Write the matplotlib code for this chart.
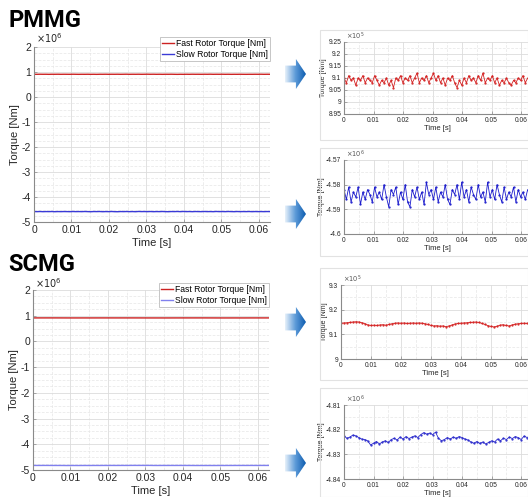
import numpy as np
import matplotlib
matplotlib.use('Agg')
import matplotlib.pyplot as plt
from matplotlib.patches import Polygon, Rectangle
from matplotlib.ticker import AutoMinorLocator

plt.rcParams['font.family'] = ['Liberation Sans', 'DejaVu Sans']

# ---- data ----
t_end = 0.063

# PMMG fast rotor torque [x1e5 Nm]
pmmg_fast = [9.10, 9.08, 9.11, 9.09, 9.10, 9.07, 9.10, 9.09, 9.11, 9.08,
             9.10, 9.09, 9.08, 9.11, 9.09, 9.07, 9.09, 9.08, 9.10, 9.07,
             9.09, 9.06, 9.10, 9.09, 9.11, 9.08, 9.10, 9.09, 9.11, 9.08,
             9.10, 9.12, 9.08, 9.10, 9.09, 9.11, 9.08, 9.10, 9.12, 9.09,
             9.11, 9.08, 9.10, 9.07, 9.10, 9.09, 9.11, 9.08, 9.06, 9.09,
             9.07, 9.10, 9.08, 9.11, 9.09, 9.10, 9.08, 9.11, 9.09, 9.12,
             9.08, 9.10, 9.09, 9.11, 9.08, 9.10, 9.07, 9.09, 9.08, 9.10,
             9.08, 9.07, 9.09, 9.08, 9.10, 9.09, 9.11, 9.08, 9.10, 9.09]

# PMMG slow rotor torque [x1e6 Nm]
pmmg_slow = [-4.582, -4.586, -4.581, -4.587, -4.583, -4.585, -4.581, -4.588, -4.583, -4.586,
             -4.582, -4.584, -4.587, -4.581, -4.585, -4.583, -4.586, -4.580, -4.585, -4.589,
             -4.582, -4.584, -4.581, -4.588, -4.583, -4.586, -4.580, -4.587, -4.589, -4.582,
             -4.585, -4.581, -4.586, -4.583, -4.588, -4.579, -4.584, -4.582, -4.586, -4.581,
             -4.587, -4.583, -4.585, -4.580, -4.586, -4.588, -4.582, -4.584, -4.580, -4.586,
             -4.579, -4.585, -4.582, -4.587, -4.581, -4.584, -4.586, -4.580, -4.585, -4.583,
             -4.587, -4.579, -4.585, -4.582, -4.586, -4.580, -4.584, -4.587, -4.581, -4.586,
             -4.583, -4.585, -4.581, -4.587, -4.582, -4.585, -4.583, -4.586, -4.582, -4.584]

# SCMG fast rotor torque [x1e5 Nm]
scmg_fast = [9.145, 9.146, 9.147, 9.148, 9.150, 9.151, 9.150, 9.147, 9.143, 9.138,
             9.136, 9.137, 9.136, 9.138, 9.139, 9.137, 9.140, 9.143, 9.145, 9.146,
             9.145, 9.146, 9.144, 9.145, 9.146, 9.145, 9.146, 9.145, 9.143, 9.140,
             9.136, 9.134, 9.135, 9.133, 9.134, 9.131, 9.134, 9.138, 9.142, 9.144,
             9.145, 9.146, 9.147, 9.148, 9.149, 9.150, 9.148, 9.144, 9.140, 9.135,
             9.132, 9.130, 9.133, 9.137, 9.139, 9.136, 9.134, 9.138, 9.141, 9.143,
             9.144, 9.145, 9.144, 9.145]

# SCMG slow rotor torque [x1e6 Nm]
scmg_slow = [-4.8225, -4.8235, -4.8230, -4.8222, -4.8225, -4.8232, -4.8238, -4.8240, -4.8245, -4.8262,
             -4.8255, -4.8248, -4.8258, -4.8250, -4.8245, -4.8252, -4.8240, -4.8235, -4.8242, -4.8230,
             -4.8238, -4.8228, -4.8236, -4.8230, -4.8225, -4.8232, -4.8220, -4.8212, -4.8218, -4.8214,
             -4.8220, -4.8210, -4.8235, -4.8245, -4.8240, -4.8232, -4.8238, -4.8230, -4.8235, -4.8228,
             -4.8232, -4.8238, -4.8242, -4.8250, -4.8255, -4.8248, -4.8256, -4.8250, -4.8258, -4.8252,
             -4.8245, -4.8250, -4.8238, -4.8245, -4.8235, -4.8240, -4.8230, -4.8236, -4.8228, -4.8232,
             -4.8240, -4.8226, -4.8232, -4.8225]

time_ticks = [0, 0.01, 0.02, 0.03, 0.04, 0.05, 0.06]
time_labels = ['0', '0.01', '0.02', '0.03', '0.04', '0.05', '0.06']
main_yticks = [-5, -4, -3, -2, -1, 0, 1, 2]
main_ylabels = ['-5', '-4', '-3', '-2', '-1', '0', '1', '2']

inset_specs = [
    # (series, scale exponent, ylim, yticks, yticklabels, colour)
    (pmmg_fast, 5, (8.95, 9.25), [8.95, 9.0, 9.05, 9.1, 9.15, 9.2, 9.25],
     ['8.95', '9', '9.05', '9.1', '9.15', '9.2', '9.25'], '#d42020'),
    (pmmg_slow, 6, (-4.60, -4.57), [-4.60, -4.59, -4.58, -4.57],
     ['-4.6', '-4.59', '-4.58', '-4.57'], '#1a1acc'),
    (scmg_fast, 5, (9.0, 9.3), [9.0, 9.1, 9.2, 9.3],
     ['9', '9.1', '9.2', '9.3'], '#d42020'),
    (scmg_slow, 6, (-4.84, -4.81), [-4.84, -4.83, -4.82, -4.81],
     ['-4.84', '-4.83', '-4.82', '-4.81'], '#2a2acc'),
]

W, H = 528, 497
fig = plt.figure(figsize=(W / 100, H / 100), dpi=100)


def px_axes(left, top, right, bottom):
    return fig.add_axes([left / W, 1 - bottom / H, (right - left) / W, (bottom - top) / H])


def matlab_style(ax, fs):
    for s in ['top', 'right']:
        ax.spines[s].set_visible(False)
    for s in ['left', 'bottom']:
        ax.spines[s].set_color('#8a8a8a')
        ax.spines[s].set_linewidth(0.8)
    ax.tick_params(direction='in', length=2, width=0.5, colors='#8a8a8a',
                   labelcolor='#262626', labelsize=fs, pad=2)
    ax.tick_params(which='minor', length=0)
    ax.grid(True, which='major', color='#dcdcdc', linewidth=0.6)
    ax.grid(True, which='minor', color='#e6e6e6', linewidth=0.5, linestyle=(0, (4, 2)))
    ax.set_axisbelow(True)


def main_panel(ax, fast, slow, slow_color, legend_top, exp_y):
    t_fast = np.linspace(0, t_end, len(fast))
    t_slow = np.linspace(0, t_end, len(slow))
    ax.plot(t_fast, np.array(fast) / 10, color='#cc2222', lw=1.0, label='Fast Rotor Torque [Nm]')
    ax.plot(t_slow, slow, color=slow_color, lw=1.0, label='Slow Rotor Torque [Nm]')
    ax.set_xlim(0, t_end)
    ax.set_ylim(-5, 2)
    ax.set_xticks(time_ticks, time_labels)
    ax.set_yticks(main_yticks, main_ylabels)
    ax.xaxis.set_minor_locator(AutoMinorLocator(2))
    ax.yaxis.set_minor_locator(AutoMinorLocator(4))
    matlab_style(ax, 7.5)
    ax.set_xlabel('Time [s]', fontsize=8, color='#262626', labelpad=2)
    ax.set_ylabel('Torque [Nm]', fontsize=8, color='#262626', labelpad=1)
    ax.text(0.01, exp_y, r'$\times10^6$', transform=ax.transAxes, fontsize=7,
            color='#262626', va='bottom', ha='left')
    leg = ax.legend(loc='upper right', bbox_to_anchor=(1.0, legend_top), fontsize=6.2,
                    handlelength=1.4, handletextpad=0.2, borderpad=0.25, labelspacing=0.25,
                    fancybox=False, framealpha=1, borderaxespad=0)
    leg.get_frame().set_edgecolor('#bdbdbd')
    leg.get_frame().set_linewidth(0.6)


ax1 = px_axes(34, 47, 270, 222)
main_panel(ax1, pmmg_fast, pmmg_slow, '#3a3ad6', 1.06, 1.012)
ax2 = px_axes(33, 290, 269, 470)
main_panel(ax2, scmg_fast, scmg_slow, '#8080ee', 1.04, 1.0)

title_font = ['Roboto', 'DejaVu Sans']
fig.text(8 / W, 1 - 27 / H, 'PMMG', fontsize=17, fontweight='bold',
         family=title_font, va='baseline')
fig.text(8 / W, 1 - 271 / H, 'SCMG', fontsize=17, fontweight='bold',
         family=title_font, va='baseline')

# light panels holding the zoomed views
for top, bottom in [(30, 140), (148, 256), (268, 380), (388, 497)]:
    fig.patches.append(Rectangle((320 / W, 1 - bottom / H), (W - 320) / W, (bottom - top) / H,
                                 transform=fig.transFigure, fill=False,
                                 edgecolor='#e2e2e2', linewidth=0.8))

inset_boxes = [(344, 42, 530, 114), (344, 160, 530, 234), (341, 285, 530, 359), (344, 405, 530, 479)]
for (series, exp, ylim, yt, ytl, col), box in zip(inset_specs, inset_boxes):
    ax = px_axes(*box)
    t = np.linspace(0, t_end, len(series))
    ax.plot(t, series, color=col, lw=0.6, marker='.', ms=1.2)
    ax.set_xlim(0, t_end)
    ax.set_ylim(*ylim)
    ax.set_xticks(time_ticks, time_labels)
    ax.set_yticks(yt, ytl)
    ax.xaxis.set_minor_locator(AutoMinorLocator(2))
    ax.yaxis.set_minor_locator(AutoMinorLocator(2))
    matlab_style(ax, 4.8)
    ax.set_xlabel('Time [s]', fontsize=5.5, color='#262626', labelpad=1)
    ax.set_ylabel('Torque [Nm]', fontsize=5, color='#262626', labelpad=1)
    ax.text(0.01, 1.0, r'$\times10^{%d}$' % exp, transform=ax.transAxes, fontsize=4.8,
            color='#555555', va='bottom', ha='left')

# gradient arrows pointing at the zoomed views
grad = np.linspace(0, 1, 64).reshape(1, -1)
cmap = matplotlib.colors.LinearSegmentedColormap.from_list('arr', ['#e6f0fa', '#5d9bd8', '#0d5cb0'])
for cy in [74, 214, 322, 463]:
    aax = px_axes(285, cy - 15, 306, cy + 15)
    aax.set_xlim(0, 1)
    aax.set_ylim(0, 1)
    aax.axis('off')
    im = aax.imshow(grad, extent=(0, 1, 0, 1), aspect='auto', cmap=cmap)
    poly = Polygon([(0, 0.22), (0.52, 0.22), (0.52, 0.0), (1.0, 0.5), (0.52, 1.0),
                    (0.52, 0.78), (0, 0.78)], closed=True, transform=aax.transData,
                   fill=False, edgecolor='none')
    aax.add_patch(poly)
    im.set_clip_path(poly)

fig.savefig('out.png', dpi=100)
